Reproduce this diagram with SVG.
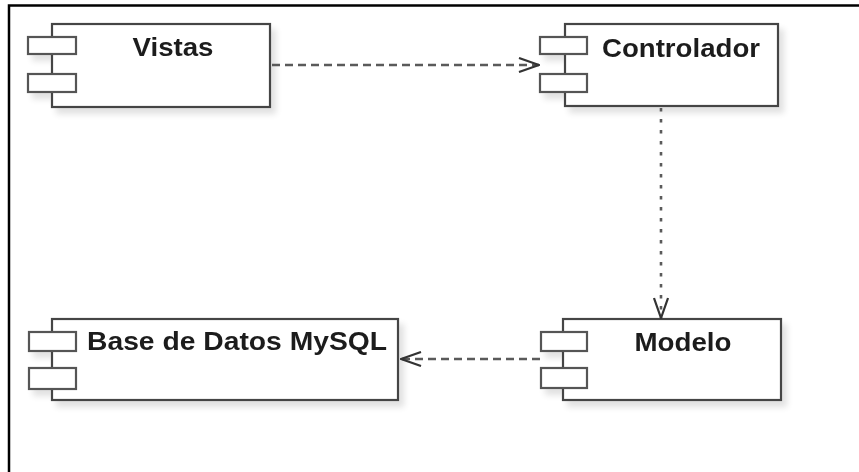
<svg xmlns="http://www.w3.org/2000/svg" width="859" height="472" viewBox="0 0 859 472">
  <defs>
    <style>
      .frame { fill: none; stroke: #000; stroke-width: 2.5; }
      .body { fill: #fff; stroke: #444; stroke-width: 2.2; }
      .port { fill: #fff; stroke: #555; stroke-width: 2.2; }
      .label { font-family: "Liberation Sans", Arial, sans-serif; font-weight: bold; font-size: 25px; fill: #1e1e1e; text-anchor: middle; }
      .dep { fill: none; stroke: #5a5a5a; stroke-width: 2.6; }
      .dep-h { stroke-dasharray: 8 5; }
      .dep-v { stroke-dasharray: 3.5 7.5; }
    </style>
    <filter id="shadow" x="-10%" y="-10%" width="130%" height="140%">
      <feGaussianBlur in="SourceAlpha" stdDeviation="3"/>
      <feOffset dx="5" dy="6" result="blur"/>
      <feComponentTransfer><feFuncA type="linear" slope="0.12"/></feComponentTransfer>
      <feMerge><feMergeNode/><feMergeNode in="SourceGraphic"/></feMerge>
    </filter>
    <marker id="open" viewBox="0 0 22 16" refX="21" refY="8" markerWidth="22" markerHeight="16" markerUnits="userSpaceOnUse" orient="auto">
      <path d="M1 1 L21 8 L1 15" fill="none" stroke="#333" stroke-width="2.2"/>
    </marker>
  </defs>

  <rect width="859" height="472" fill="#fff"/>

  <!-- outer frame: top and left edges -->
  <path class="frame" d="M9 472 V5.5 H859"/>

  <!-- component: Vistas -->
  <g id="vistas" filter="url(#shadow)">
    <rect class="body" x="52" y="24" width="218" height="83"/>
    <rect class="port" x="28" y="37" width="48" height="17"/>
    <rect class="port" x="28" y="74" width="48" height="18"/>
    <text class="label" x="173" y="56" textLength="81" lengthAdjust="spacingAndGlyphs">Vistas</text>
  </g>

  <!-- component: Controlador -->
  <g id="controlador" filter="url(#shadow)">
    <rect class="body" x="565" y="24" width="213" height="82"/>
    <rect class="port" x="540" y="37" width="47" height="17"/>
    <rect class="port" x="540" y="74" width="47" height="18"/>
    <text class="label" x="681" y="57" textLength="158" lengthAdjust="spacingAndGlyphs">Controlador</text>
  </g>

  <!-- component: Base de Datos MySQL -->
  <g id="base-datos" filter="url(#shadow)">
    <rect class="body" x="52" y="319" width="346" height="81"/>
    <rect class="port" x="29" y="332" width="47" height="19"/>
    <rect class="port" x="29" y="368" width="47" height="21"/>
    <text class="label" x="237" y="350" textLength="300" lengthAdjust="spacingAndGlyphs">Base de Datos MySQL</text>
  </g>

  <!-- component: Modelo -->
  <g id="modelo" filter="url(#shadow)">
    <rect class="body" x="563" y="319" width="218" height="81"/>
    <rect class="port" x="541" y="332" width="46" height="19"/>
    <rect class="port" x="541" y="368" width="46" height="20"/>
    <text class="label" x="683" y="351" textLength="97" lengthAdjust="spacingAndGlyphs">Modelo</text>
  </g>

  <!-- dependency connectors -->
  <g id="connectors">
    <path class="dep dep-h" d="M272 65 H539" marker-end="url(#open)"/>
    <path class="dep dep-v" d="M661 108 V318" marker-end="url(#open)"/>
    <path class="dep dep-h" d="M540 359 H401" marker-end="url(#open)"/>
  </g>
</svg>
